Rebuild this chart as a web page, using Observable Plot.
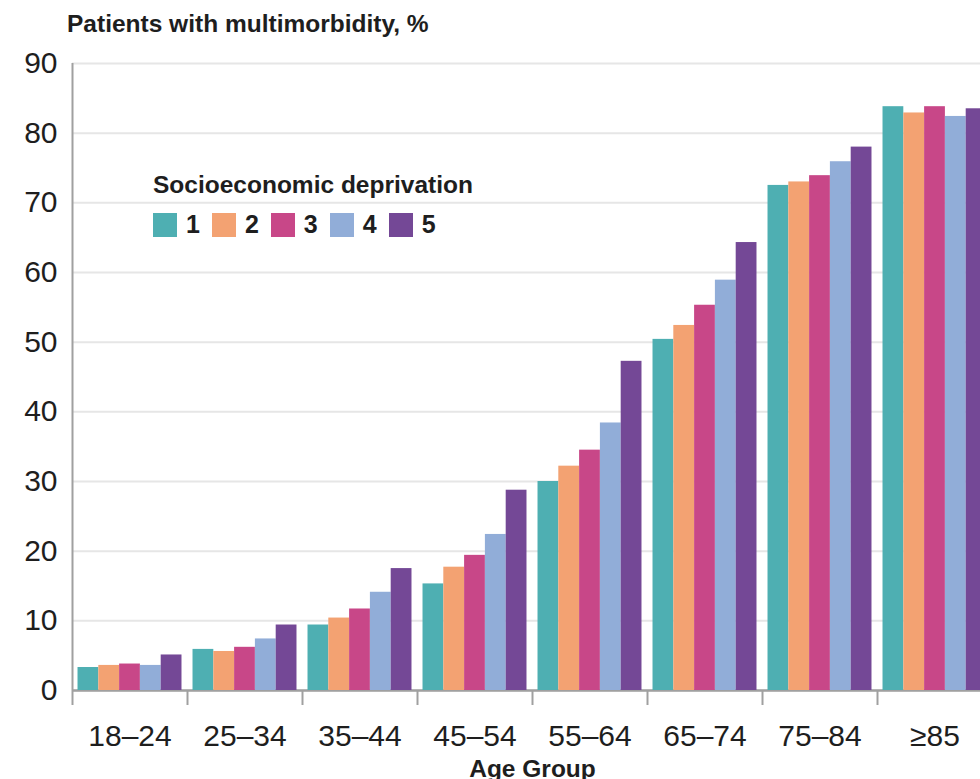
<!DOCTYPE html>
<html>
<head>
<meta charset="utf-8">
<script src="https://cdn.jsdelivr.net/npm/d3@7"></script>
<script src="https://cdn.jsdelivr.net/npm/@observablehq/plot@0.6"></script>
<style>
  html, body { margin: 0; padding: 0; overflow: hidden; background: #fff; }
  #wrap { position: relative; width: 1000px; height: 800px; font-family: "Liberation Sans", Arial, sans-serif; color: #1e1e1e; }
  #wrap svg.chart { display: block; max-width: none !important; }
  .title { position: absolute; left: 67px; top: 12px; font-size: 24.5px; font-weight: 700; line-height: 1; white-space: nowrap; }
  .legend-title { position: absolute; left: 153px; top: 173px; font-size: 24.5px; font-weight: 700; line-height: 1; white-space: nowrap; }
  .legend-box { position: absolute; left: 153px; top: 210px; }
  .legend-box .dep-swatches { font: 700 25px "Liberation Sans", Arial, sans-serif !important; color: #1e1e1e !important; margin: 0 !important; min-height: 0 !important; }
  .legend-box .dep-swatch { margin-right: 12px !important; }
  .legend-box .dep-swatch > svg { margin-right: 9px !important; }
  g[aria-label="fx-axis label"] text { font-size: 24.5px; font-weight: 700; }
</style>
</head>
<body>
<div id="wrap">
  <div class="title">Patients with multimorbidity, %</div>
  <div class="legend-title">Socioeconomic deprivation</div>
  <div class="legend-box" id="legend"></div>
</div>
<script>
const ageGroups = ["18–24", "25–34", "35–44", "45–54", "55–64", "65–74", "75–84", "≥85"];
const deprivation = ["1", "2", "3", "4", "5"];
const quintile1 = [3.3, 5.9, 9.4, 15.3, 30.0, 50.4, 72.5, 83.8];
const quintile2 = [3.6, 5.6, 10.4, 17.7, 32.2, 52.4, 73.0, 82.9];
const quintile3 = [3.8, 6.2, 11.7, 19.4, 34.5, 55.3, 73.9, 83.8];
const quintile4 = [3.6, 7.4, 14.1, 22.4, 38.4, 58.9, 75.9, 82.4];
const quintile5 = [5.1, 9.4, 17.5, 28.75, 47.25, 64.3, 78.0, 83.5];
const yTicks = [0, 10, 20, 30, 40, 50, 60, 70, 80, 90];
const colors = ["#4EAFB2", "#F3A272", "#C84788", "#91ADD8", "#744896"];

const seriesValues = [quintile1, quintile2, quintile3, quintile4, quintile5];
const data = [];
ageGroups.forEach((g, i) => {
  deprivation.forEach((s, k) => {
    data.push({group: g, series: s, value: seriesValues[k][i]});
  });
});

const width = 1000, marginLeft = 72, marginRight = 8;
const xPaddingOuter = 0.265;
const facetWidth = (width - marginLeft - marginRight) / ageGroups.length;
const barWidth = facetWidth / (deprivation.length + 2 * xPaddingOuter);

const chart = Plot.plot({
  width,
  height: 800,
  marginLeft,
  marginRight,
  marginTop: 63,
  marginBottom: 110,
  style: {fontFamily: "'Liberation Sans', Arial, sans-serif", color: "#1e1e1e", background: "white"},
  fx: {domain: ageGroups, padding: 0, round: false},
  x: {domain: deprivation, paddingInner: 0, paddingOuter: xPaddingOuter, round: false, axis: null},
  y: {domain: [0, 90]},
  color: {domain: deprivation, range: colors},
  marks: [
    Plot.gridY(yTicks, {stroke: "#e6e6e6", strokeOpacity: 1, strokeWidth: 2}),
    Plot.axisY(yTicks, {tickSize: 0, tickPadding: 15, fontSize: 30, label: null, fill: "#1e1e1e"}),
    // y-axis line, drawn in the first facet at its left edge
    Plot.ruleX([{group: ageGroups[0], series: deprivation[0]}], {
      fx: "group", x: "series", y1: 0, y2: 90,
      dx: -xPaddingOuter * barWidth - barWidth / 2,
      stroke: "#a0a0a0", strokeWidth: 2
    }),
    Plot.ruleY([0], {stroke: "#a0a0a0", strokeWidth: 2.5}),
    Plot.barY(data, {fx: "group", x: "series", y: "value", fill: "series"}),
    Plot.axisFx({anchor: "bottom", tickSize: 0, tickPadding: 34, fontSize: 30, fill: "#1e1e1e", label: null}),
    Plot.axisFx({anchor: "bottom", tickSize: 0, tickFormat: () => "", label: "Age Group", labelAnchor: "center", labelOffset: 86, dx: -13, fill: "#1e1e1e"}),
    Plot.axisFx({anchor: "bottom", tickSize: 15, tickFormat: () => "", label: null, dx: -facetWidth / 2, stroke: "#a0a0a0", strokeWidth: 2})
  ]
});
chart.classList.add("chart");
document.getElementById("wrap").prepend(chart);

const legend = Plot.legend({
  color: {type: "ordinal", domain: deprivation, range: colors},
  legend: "swatches",
  swatchSize: 24,
  className: "dep"
});
document.getElementById("legend").append(legend);
</script>
</body>
</html>
